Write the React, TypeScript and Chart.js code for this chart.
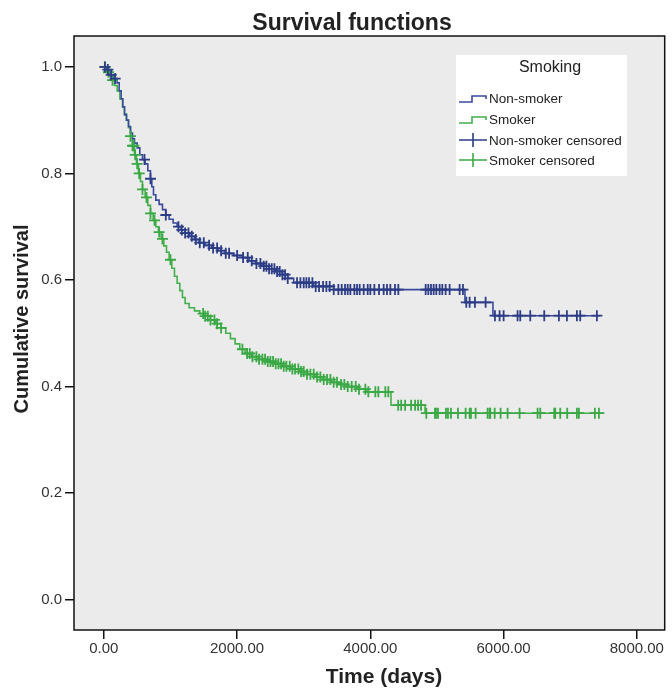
import { useEffect, useRef } from 'react';
import { Chart, registerables } from 'chart.js';
Chart.register(...registerables);

// ---- Data ----
const nonSmokerTimes = [0, 40, 90, 150, 200, 230, 260, 285, 310, 340, 370, 400, 430, 460, 500, 540, 580, 620, 660, 700, 720, 745, 780, 830, 880, 930, 980, 1040, 1100, 1160, 1220, 1290, 1360, 1430, 1520, 1620, 1720, 1820, 1950, 2080, 2180, 2280, 2380, 2480, 2580, 2680, 2760, 2850, 3150, 3450, 5420, 5840, 7450];
const nonSmokerSurvival = [1.0, 0.995, 0.985, 0.978, 0.97, 0.955, 0.94, 0.925, 0.91, 0.9, 0.888, 0.876, 0.865, 0.857, 0.848, 0.835, 0.826, 0.818, 0.805, 0.79, 0.775, 0.76, 0.75, 0.742, 0.732, 0.722, 0.714, 0.707, 0.7, 0.694, 0.688, 0.682, 0.676, 0.67, 0.665, 0.66, 0.655, 0.65, 0.646, 0.642, 0.636, 0.631, 0.626, 0.621, 0.616, 0.61, 0.603, 0.595, 0.588, 0.582, 0.558, 0.533, 0.533];

const smokerTimes = [0, 40, 80, 120, 160, 200, 240, 280, 310, 340, 370, 400, 430, 460, 490, 520, 550, 580, 620, 660, 700, 740, 780, 820, 860, 900, 940, 980, 1020, 1060, 1100, 1140, 1180, 1220, 1280, 1360, 1440, 1520, 1600, 1680, 1760, 1830, 1900, 1970, 2040, 2120, 2220, 2330, 2450, 2570, 2690, 2810, 2930, 3050, 3170, 3290, 3410, 3530, 3650, 3800, 3950, 4310, 4820, 7500];
const smokerSurvival = [1.0, 0.99, 0.983, 0.975, 0.965, 0.955, 0.94, 0.925, 0.912, 0.9, 0.886, 0.87, 0.852, 0.835, 0.818, 0.8, 0.785, 0.77, 0.755, 0.74, 0.725, 0.712, 0.7, 0.69, 0.677, 0.664, 0.652, 0.638, 0.622, 0.607, 0.594, 0.58, 0.567, 0.556, 0.548, 0.542, 0.537, 0.532, 0.525, 0.518, 0.51, 0.5, 0.49, 0.48, 0.47, 0.462, 0.456, 0.451, 0.447, 0.443, 0.438, 0.433, 0.428, 0.423, 0.418, 0.413, 0.408, 0.404, 0.4, 0.395, 0.39, 0.365, 0.35, 0.35];

const nonSmokerCensored = [15, 60, 110, 170, 610, 700, 930, 1120, 1170, 1220, 1270, 1320, 1380, 1440, 1500, 1580, 1640, 1700, 1760, 1830, 1880, 2000, 2090, 2160, 2220, 2290, 2350, 2400, 2440, 2480, 2520, 2560, 2600, 2640, 2680, 2720, 2760, 2900, 2950, 3000, 3040, 3080, 3130, 3180, 3230, 3290, 3340, 3390, 3450, 3520, 3570, 3620, 3660, 3700, 3760, 3800, 3840, 3900, 3960, 4000, 4060, 4130, 4200, 4250, 4300, 4370, 4420, 4830, 4870, 4910, 4950, 4990, 5040, 5080, 5130, 5190, 5340, 5390, 5440, 5490, 5570, 5730, 5870, 5940, 6000, 6210, 6250, 6400, 6610, 6830, 6950, 7100, 7150, 7400];
const smokerCensored = [20, 70, 130, 400, 430, 450, 470, 500, 530, 580, 640, 700, 760, 830, 880, 1000, 1490, 1520, 1560, 1600, 1660, 1700, 1760, 2080, 2150, 2190, 2230, 2290, 2330, 2380, 2420, 2460, 2500, 2540, 2580, 2620, 2660, 2700, 2740, 2790, 2830, 2870, 2920, 2960, 3000, 3050, 3100, 3150, 3200, 3250, 3300, 3350, 3400, 3450, 3500, 3560, 3610, 3660, 3720, 3780, 3830, 3925, 3970, 4075, 4120, 4225, 4270, 4418, 4463, 4522, 4612, 4672, 4716, 4761, 4840, 4970, 4985, 5015, 5135, 5165, 5210, 5315, 5430, 5490, 5510, 5580, 5760, 5790, 5800, 5866, 5955, 6060, 6240, 6510, 6550, 6760, 6775, 6850, 6955, 7100, 7130, 7370, 7430];

const xTicks = [0, 2000, 4000, 6000, 8000];
const yTicks = [0, 0.2, 0.4, 0.6, 0.8, 1.0];
const chartTitle = 'Survival functions';
const xTitle = 'Time (days)';
const yTitle = 'Cumulative survival';
const legendTitle = 'Smoking';
const seriesLabels = ['Non-smoker', 'Smoker', 'Non-smoker censored', 'Smoker censored'];

// ---- Styles ----
const BLUE = '#3a4a9e';
const BLUE_MARK = '#2c3d86';
const GREEN = '#44b04c';
const GREEN_MARK = '#3aa845';
const FONT = '"Liberation Sans", Arial, Helvetica, sans-serif';

function stepAt(times: number[], surv: number[], t: number) {
  let v = surv[0];
  for (let i = 0; i < times.length; i++) {
    if (times[i] <= t) v = surv[i];
    else break;
  }
  return v;
}

const bgPlugin = {
  id: 'plotBg',
  beforeDraw(chart: any) {
    const { ctx, chartArea: a } = chart;
    ctx.save();
    ctx.fillStyle = '#ffffff';
    ctx.fillRect(0, 0, chart.width, chart.height);
    ctx.fillStyle = '#ebebeb';
    ctx.fillRect(a.left, a.top, a.right - a.left, a.bottom - a.top);
    ctx.restore();
  },
  afterDraw(chart: any) {
    const { ctx, chartArea: a } = chart;
    const xs = chart.scales.x;
    ctx.save();
    ctx.strokeStyle = '#111';
    ctx.lineWidth = 1.5;
    ctx.strokeRect(a.left, a.top, a.right - a.left, a.bottom - a.top);
    // x tick labels
    ctx.fillStyle = '#333';
    ctx.font = `15px ${FONT}`;
    ctx.textAlign = 'center';
    ctx.textBaseline = 'middle';
    xTicks.forEach((v) => {
      ctx.fillText(v.toFixed(2), xs.getPixelForValue(v), a.bottom + 19);
    });
    // title
    ctx.fillStyle = '#222';
    ctx.font = `bold 23px ${FONT}`;
    ctx.textBaseline = 'alphabetic';
    ctx.fillText(chartTitle, 352, 30);
    // x title
    ctx.font = `bold 21px ${FONT}`;
    ctx.textBaseline = 'middle';
    ctx.fillText(xTitle, 384, 677);
    // y title
    ctx.save();
    ctx.translate(22, 319);
    ctx.rotate(-Math.PI / 2);
    ctx.font = `bold 20px ${FONT}`;
    ctx.fillText(yTitle, 0, 0);
    ctx.restore();
    // legend
    const bx = 456, by = 55, bw = 171, bh = 121;
    ctx.fillStyle = '#ffffff';
    ctx.fillRect(bx, by, bw, bh);
    ctx.fillStyle = '#222';
    ctx.font = `16px ${FONT}`;
    ctx.textAlign = 'center';
    ctx.fillText(legendTitle, 550, 68);
    ctx.font = `13.5px ${FONT}`;
    ctx.textAlign = 'left';
    const rows = [98, 119, 140, 160];
    const colors = [BLUE, GREEN, BLUE_MARK, GREEN_MARK];
    rows.forEach((y, i) => {
      ctx.strokeStyle = colors[i];
      ctx.lineWidth = 1.6;
      ctx.beginPath();
      if (i < 2) {
        ctx.moveTo(459, y + 4);
        ctx.lineTo(472, y + 4);
        ctx.lineTo(472, y - 2);
        ctx.lineTo(486, y - 2);
        ctx.lineTo(486, y + 1);
      } else {
        ctx.moveTo(459, y);
        ctx.lineTo(487, y);
        ctx.moveTo(473, y - 7);
        ctx.lineTo(473, y + 7);
      }
      ctx.stroke();
      ctx.fillStyle = '#222';
      ctx.fillText(seriesLabels[i], 489, y + 1);
    });
    ctx.restore();
  },
};

export default function App() {
  const ref = useRef<HTMLCanvasElement>(null);
  useEffect(() => {
    document.body.style.margin = '0';
    if (!ref.current) return;
    const chart = new Chart(ref.current, {
      type: 'scatter',
      data: {
        datasets: [
          {
            label: seriesLabels[0],
            type: 'line',
            data: nonSmokerTimes.map((t, i) => ({ x: t, y: nonSmokerSurvival[i] })),
            borderColor: BLUE,
            borderWidth: 1.6,
            stepped: true,
            pointRadius: 0,
            fill: false,
            order: 3,
          } as any,
          {
            label: seriesLabels[1],
            type: 'line',
            data: smokerTimes.map((t, i) => ({ x: t, y: smokerSurvival[i] })),
            borderColor: GREEN,
            borderWidth: 1.6,
            stepped: true,
            pointRadius: 0,
            fill: false,
            order: 4,
          } as any,
          {
            label: seriesLabels[2],
            data: nonSmokerCensored.map((t) => ({ x: t, y: stepAt(nonSmokerTimes, nonSmokerSurvival, t) })),
            pointStyle: 'cross',
            pointRadius: 5.5,
            borderWidth: 1.8,
            borderColor: BLUE_MARK,
            backgroundColor: BLUE_MARK,
            order: 1,
          },
          {
            label: seriesLabels[3],
            data: smokerCensored.map((t) => ({ x: t, y: stepAt(smokerTimes, smokerSurvival, t) })),
            pointStyle: 'cross',
            pointRadius: 5.5,
            borderWidth: 1.8,
            borderColor: GREEN_MARK,
            backgroundColor: GREEN_MARK,
            order: 2,
          },
        ],
      },
      options: {
        responsive: false,
        animation: false,
        layout: { padding: { top: 36, right: 0, left: 0, bottom: 0 } },
        plugins: {
          legend: { display: false },
          tooltip: { enabled: false },
          title: { display: false },
        },
        scales: {
          x: {
            type: 'linear',
            min: -448,
            max: 8418,
            afterBuildTicks: (s: any) => {
              s.ticks = xTicks.map((v) => ({ value: v }));
            },
            afterFit: (s: any) => {
              s.height = 59;
            },
            ticks: { display: false },
            grid: { drawOnChartArea: false, drawTicks: true, tickLength: 9, color: '#111', lineWidth: 1.5 },
            border: { display: false },
            title: { display: false },
          },
          y: {
            type: 'linear',
            min: -0.057,
            max: 1.058,
            afterBuildTicks: (s: any) => {
              s.ticks = yTicks.map((v) => ({ value: v }));
            },
            afterFit: (s: any) => {
              s.width = 74;
            },
            ticks: {
              callback: (v: any) => Number(v).toFixed(1),
              color: '#333',
              font: { family: FONT, size: 15 },
              padding: 3,
            },
            grid: { drawOnChartArea: false, drawTicks: true, tickLength: 9, color: '#111', lineWidth: 1.5 },
            border: { display: false },
            title: { display: false },
          },
        },
      },
      plugins: [bgPlugin],
    });
    return () => chart.destroy();
  }, []);
  return (
    <div style={{ width: 672, height: 689 }}>
      <canvas ref={ref} width={672} height={689} />
    </div>
  );
}
